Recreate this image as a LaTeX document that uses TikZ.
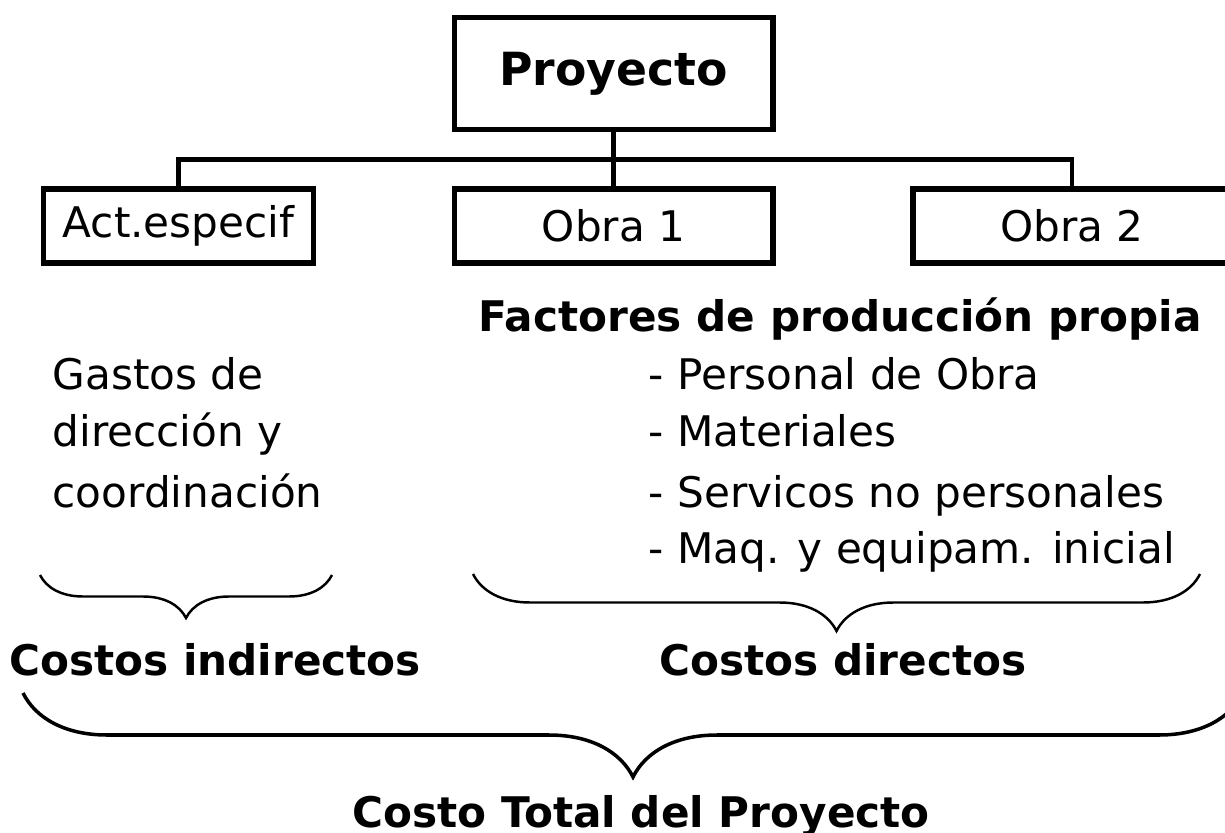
\documentclass[tikz,border=0pt]{standalone}
\usepackage{fontspec}
\setmainfont{DejaVu Sans}
\usetikzlibrary{decorations.pathreplacing}

\tikzset{
	caja/.style={draw, line width=1.7pt, inner sep=0pt, font=\fontsize{12}{14}\selectfont},
	texto/.style={inner sep=0pt, font=\fontsize{12}{14}\selectfont},
	titulo/.style={inner sep=0pt, font=\fontsize{12}{14}\selectfont\bfseries},
	rama/.style={line width=1.3pt},
	llave/.style={decorate, decoration={brace, mirror, amplitude=#1}, line width=0.7pt},
}

\begin{document}
\begin{tikzpicture}
		\useasboundingbox (0,0) rectangle (12.25,-8.32);
		% arbol
		\node[caja, font=\fontsize{13}{15}\selectfont\bfseries, minimum width=3.18cm, minimum height=1.12cm] (proyecto) at (6.135,-0.735) {Proyecto};
		\node[caja, minimum width=2.70cm, minimum height=0.74cm] (act) at (1.785,-2.26) {Act.especif};
		\node[caja, minimum width=3.18cm, minimum height=0.74cm] (obra1) at (6.135,-2.26) {Obra 1};
		\node[caja, minimum width=3.18cm, minimum height=0.74cm] (obra2) at (10.72,-2.26) {Obra 2};
		\draw[rama] (proyecto.south) -- ++(0,-0.27) coordinate (nudo);
		\draw[rama] (act.north) |- (nudo) -| (obra2.north);
		\draw[rama] (nudo) -- (obra1.north);
		% textos
		\node[titulo, anchor=base] (factores) at (8.40,-3.32) {Factores de producción propia};
		\node[texto, anchor=base west] (gastos1) at (0.52,-3.90) {Gastos de};
		\node[texto, anchor=base west] (gastos2) at (0.52,-4.47) {dirección y};
		\node[texto, anchor=base west] (gastos3) at (0.52,-5.07) {coordinación};
		\node[texto, anchor=base west] (item1) at (6.48,-3.90) {- Personal de Obra};
		\node[texto, anchor=base west] (item2) at (6.48,-4.47) {- Materiales};
		\node[texto, anchor=base west] (item3) at (6.48,-5.07) {- Servicos no personales};
		\node[texto, anchor=base west] (item4) at (6.48,-5.63) {- Maq. y equipam. inicial};
		% llaves
		\draw[llave=0.43cm] (0.40,-5.75) -- (3.32,-5.75);
		\draw[llave=0.57cm] (4.73,-5.74) -- (12.00,-5.74);
		\draw[llave=0.84cm, line width=1pt] (0.23,-6.93) -- (12.43,-6.93);
		\node[titulo, anchor=base] (indirectos) at (2.15,-6.75) {Costos indirectos};
		\node[titulo, anchor=base] (directos) at (8.43,-6.75) {Costos directos};
		\node[titulo, anchor=base] (total) at (6.41,-8.27) {Costo Total del Proyecto};
	\end{tikzpicture}
\end{document}
